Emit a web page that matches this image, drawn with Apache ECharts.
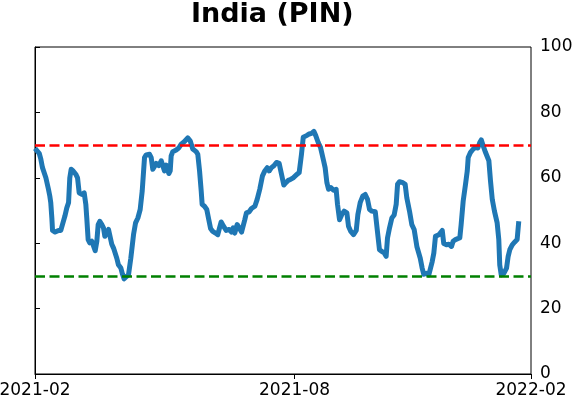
<!DOCTYPE html>
<html>
<head>
<meta charset="utf-8">
<script src="https://cdn.jsdelivr.net/npm/echarts@6/dist/echarts.min.js"></script>
<style>
  html, body { margin: 0; padding: 0; background: #fff; }
  #chart { width: 572px; height: 402px; }
</style>
</head>
<body>
<div id="chart"></div>
<script>
// days since 2021-02-01
const days = [
  0, 3.1, 4.3, 5.5, 8.0, 9.9, 10.9, 11.6, 12.4, 12.9, 14.8, 16.1, 17.3, 19.0, 20.2, 22.0, 23.4, 24.7,
  25.6, 26.6, 28.1, 30.0, 31.3, 32.5, 34.5, 36.2, 37.4, 38.1, 39.1, 40.3, 41.8, 42.8, 44.3, 45.5,
  46.5, 47.7, 49.2, 50.4, 51.4, 52.6, 54.1, 55.1, 56.5, 57.8, 59.0, 60.2, 61.4, 63.2, 64.4, 65.6,
  67.3, 68.8, 70.5, 72.5, 74.0, 75.7, 77.4, 78.9, 80.6, 81.8, 84.3, 85.5, 86.7, 87.9, 89.2, 91.1,
  92.9, 94.1, 95.3, 96.5, 98.5, 99.5, 100.2, 101.4, 103.9, 105.8, 107.6, 110.0, 112.4, 114.2, 116.1,
  118.6, 119.8, 121.1, 122.3, 123.0, 124.7, 126.4, 127.9, 129.2, 130.8, 132.8, 134.5, 135.8, 137.0,
  138.7, 140.7, 142.9, 144.6, 145.8, 147.0, 148.8, 150.2, 152.0, 153.2, 154.4, 155.6, 157.6, 159.3,
  161.8, 163.5, 165.4, 167.4, 169.1, 170.9, 172.3, 174.0, 175.8, 177.7, 179.7, 181.4, 183.1, 184.6,
  186.3, 188.0, 190.0, 191.2, 192.9, 194.4, 196.1, 197.4, 199.8, 201.8, 203.5, 205.2, 206.6, 208.4,
  210.1, 212.2, 213.5, 214.8, 216.0, 217.7, 219.7, 221.6, 222.6, 224.1, 225.8, 227.5, 229.5, 230.7,
  232.4, 234.4, 236.4, 237.6, 239.3, 241.2, 243.0, 244.7, 246.2, 247.9, 250.4, 252.0, 253.5, 255.2,
  257.0, 258.4, 259.4, 260.9, 262.6, 264.3, 265.8, 266.8, 268.2, 270.7, 272.4, 273.6, 275.6, 277.3,
  279.0, 281.0, 283.5, 284.9, 286.1, 288.1, 289.8, 291.1, 292.3, 293.5, 294.7, 297.2, 299.7, 300.8,
  302.8, 304.5, 306.5, 307.7, 309.4, 311.1, 312.6, 313.6, 315.1, 316.8, 318.1, 318.8, 320.5, 322.5,
  324.2, 325.9, 327.3, 328.4, 329.8, 331.5, 334.0, 335.2, 336.5, 338.1, 340.1, 341.3, 342.0, 343.1,
  345.0, 347.0, 348.2, 349.4, 351.2, 352.9, 354.8, 356.0
];
const values = [
  69, 67.5, 65.7, 63.1, 60, 56.5, 54.4, 52.4, 47.7, 43.9, 43.4, 43.1, 43.9, 43.9, 45.7, 48.3, 50.8, 52.4,
  60, 62.6, 62.1, 61.1, 60, 55.4, 54.9, 55.4, 51.9, 47.7, 41.1, 40.1, 40.6, 39.5, 37.7, 40.6,
  45.7, 46.7, 45.7, 44.7, 42.1, 43.1, 44.2, 43.6, 39.7, 38.5, 38, 35.4, 33.4, 32.4, 30.5, 29.1,
  29.8, 30.3, 35.4, 42.6, 46.2, 47.7, 50.3, 56, 66.2, 67, 67.2, 66.2, 62.6, 62.1, 64.4, 63.7,
  65.2, 65.7, 62.1, 63.9, 61.3, 62.1, 66.7, 68, 68.5, 69.1, 70.3, 71.1, 72.2, 71.3, 68.8,
  68, 67.2, 62.1, 56, 51.9, 51.3, 50.3, 47.2, 44.5, 43.6, 43.1, 42.6, 44.7, 46.5,
  45.2, 43.9, 44.2, 43.4, 44.7, 43.1, 45.7, 45.2, 43.4, 43.1, 47.2, 49.3, 49.6, 50.6,
  51.3, 53.4, 56.5, 60.6, 62.1, 63.1, 62.1, 63.1, 63.7, 64.7, 64.4, 61.1, 57.8, 58.5,
  59.2, 59.5, 60, 60.6, 61.1, 61.6, 67.2, 72.4, 72.9, 73.4, 73.6, 74.2, 72.9, 70.8,
  69.3, 65.5, 63.1, 58.5, 56.5, 57, 56.2, 56.5, 51.9, 47.2, 48.8, 49.8, 49.3, 45.2,
  43.6, 42.6, 43.9, 48.8, 52.4, 54.4, 54.9, 53.4, 50.3, 49.8, 49.6, 43.6, 38, 37.5,
  37, 36, 41.6, 44.7, 47.7, 48.6, 51.9, 58, 58.8, 58.5, 58, 53.9, 49.8, 45.7,
  44.2, 39, 35.4, 32.4, 30.5, 30.8, 30.3, 29.8, 34.4, 37, 42.1, 42.6, 43.9, 39.9,
  39.5, 39.7, 39, 40.6, 41.1, 41.4, 41.6, 45.7, 52.9, 58, 62.1, 66.2, 67.8, 68.8,
  69.3, 69.1, 70.8, 71.6, 69.8, 67.8, 65.2, 59, 53.4, 49.8, 46.2, 41.1, 33.4, 30.3,
  30.8, 32.4, 36, 38, 39.5, 40.3, 41.1, 46.7
];
// tick positions (days since 2021-02-01) and their labels
const tickDays = [0, 191, 365];
const tickLabels = ['2021-02', '2021-08', '2022-02'];
const upperLine = 70;
const lowerLine = 30;

const chart = echarts.init(document.getElementById('chart'));
chart.setOption({
  animation: false,
  title: {
    text: 'India (PIN)',
    left: 191,
    top: 1,
    padding: 0,
    textStyle: { fontFamily: 'DejaVu Sans', fontWeight: 'bold', fontSize: 27, color: '#000' }
  },
  grid: {
    left: 35, right: 41, top: 47, bottom: 28,
    containLabel: false,
    outerBoundsMode: 'none',
    show: true, borderColor: '#000', borderWidth: 1, backgroundColor: 'transparent'
  },
  xAxis: {
    type: 'value',
    min: tickDays[0],
    max: tickDays[tickDays.length - 1],
    splitLine: { show: false },
    axisLine: { show: true, lineStyle: { color: '#000', width: 1 } },
    axisTick: { show: true, length: 5, lineStyle: { color: '#000' }, customValues: tickDays },
    axisLabel: {
      customValues: tickDays,
      color: '#000', fontFamily: 'DejaVu Sans', fontSize: 17, margin: 8,
      hideOverlap: false,
      showMinLabel: true, showMaxLabel: true,
      formatter: v => tickLabels[tickDays.indexOf(v)]
    }
  },
  yAxis: {
    type: 'value',
    position: 'right',
    min: 0, max: 100, interval: 20,
    splitLine: { show: false },
    axisLine: { show: true, lineStyle: { color: '#000', width: 1 } },
    axisTick: { show: true, length: 5, lineStyle: { color: '#000' } },
    axisLabel: { color: '#000', fontFamily: 'DejaVu Sans', fontSize: 17, margin: 9 }
  },
  series: [{
    type: 'line',
    data: days.map((d, i) => [d, values[i]]),
    showSymbol: false,
    symbol: 'none',
    lineStyle: { color: '#1f77b4', width: 5, join: 'round', cap: 'butt' },
    markLine: {
      silent: true,
      symbol: 'none',
      label: { show: false },
      z: 10,
      data: [
        { yAxis: upperLine, lineStyle: { color: '#ff0000', type: [10, 4.5], width: 2.5 } },
        { yAxis: lowerLine, lineStyle: { color: '#008000', type: [10, 4.5], width: 2.5 } }
      ]
    }
  }]
});
</script>
</body>
</html>
